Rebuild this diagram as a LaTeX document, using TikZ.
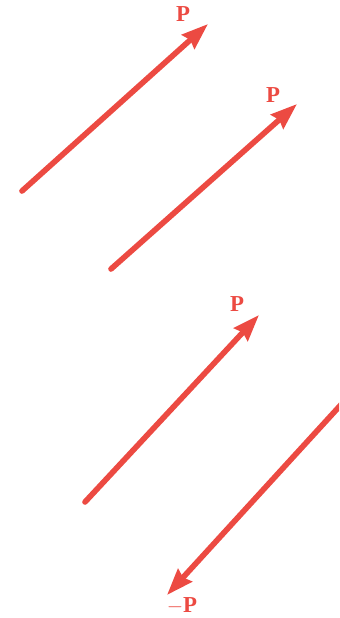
\documentclass[tikz,border=0pt]{standalone}
\usepackage{fontspec}
\setmainfont{Liberation Serif}
\usetikzlibrary{arrows.meta}
\definecolor{vecred}{RGB}{236,74,66}

\begin{document}
\begin{tikzpicture}[
  x=0.02cm, y=-0.02cm,
  every node/.style={font=\fontsize{13}{15}\selectfont\bfseries, text=vecred},
  vec/.style={draw=vecred, line width=3.2pt, line cap=round,
    -{Stealth[length=15pt, width=10.5pt, inset=1.5pt]}},
]
\useasboundingbox (0,0) rectangle (339,618);

%% Top pair: two equal vectors P
\coordinate (aTail) at (22,191);
\coordinate (aTip)  at (208,24);
\node (aLab) at (183,14) {P};
\draw[vec] (aTail) -- (aTip);

\coordinate (bTail) at (111,269);
\coordinate (bTip)  at (297,104);
\node (bLab) at (273,95) {P};
\draw[vec] (bTail) -- (bTip);

%% Bottom pair: P and its opposite -P
\coordinate (cTail) at (85,502);
\coordinate (cTip)  at (259,315);
\node (cLab) at (237,304) {P};
\draw[vec] (cTail) -- (cTip);

\begin{scope}
  \clip (0,0) rectangle (339,618);
  \coordinate (dTail) at (348,397);
  \coordinate (dTip)  at (167,595);
  \draw[vec] (dTail) -- (dTip);
\end{scope}
\node (dLab) at (182,606) {$-$P};

\end{tikzpicture}
\end{document}
